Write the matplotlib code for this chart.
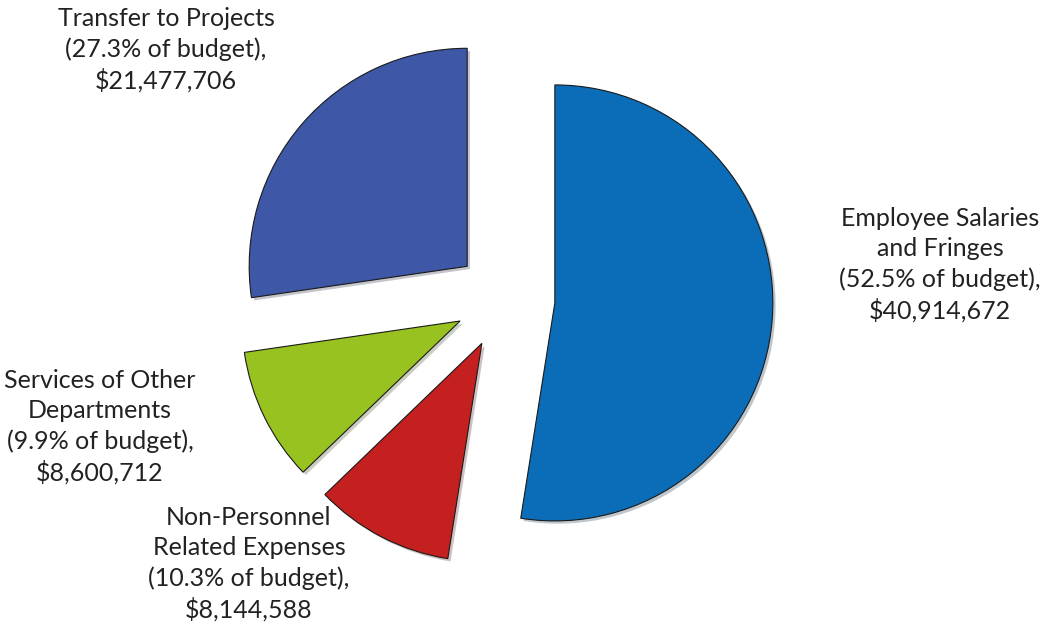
import matplotlib.pyplot as plt
import matplotlib.patheffects as pe

# budget data
categories = ["Employee Salaries\nand Fringes", "Non-Personnel\nRelated Expenses",
              "Services of Other\nDepartments", "Transfer to Projects"]
amounts = [40914672, 8144588, 8600712, 21477706]
shares = [52.5, 10.3, 9.9, 27.3]
colors = ["#0b6db8", "#c42020", "#98c21f", "#3e57a7"]

# label placement (figure pixels, y from bottom)
label_pos = [(940, 368), (249, 69), (100, 206), (166, 583)]

fig = plt.figure(figsize=(10.42, 6.33), dpi=100)
ax = fig.add_axes([0, 0, 1, 1])
ax.set_xlim(0, 1042)
ax.set_ylim(0, 633)
ax.set_aspect("equal")
ax.axis("off")

wedges, _ = ax.pie(shares, colors=colors, startangle=90, counterclock=False,
                   explode=[50] * 4, radius=218, center=(505, 334),
                   wedgeprops=dict(linewidth=0.8, edgecolor="#1a1a1a"))
for w in wedges:
    w.set_path_effects([pe.SimplePatchShadow(offset=(2, -2), alpha=0.25), pe.Normal()])

ax.set_xlim(0, 1042)
ax.set_ylim(0, 633)

for cat, amt, sh, (x, y) in zip(categories, amounts, shares, label_pos):
    txt = f"{cat}\n({sh}% of budget),\n${amt:,}"
    ax.text(x, y, txt, ha="center", va="center", fontsize=18, family="Lato",
            color="#222222", linespacing=1.36, zorder=5)

fig.savefig("out.png", dpi=100)
